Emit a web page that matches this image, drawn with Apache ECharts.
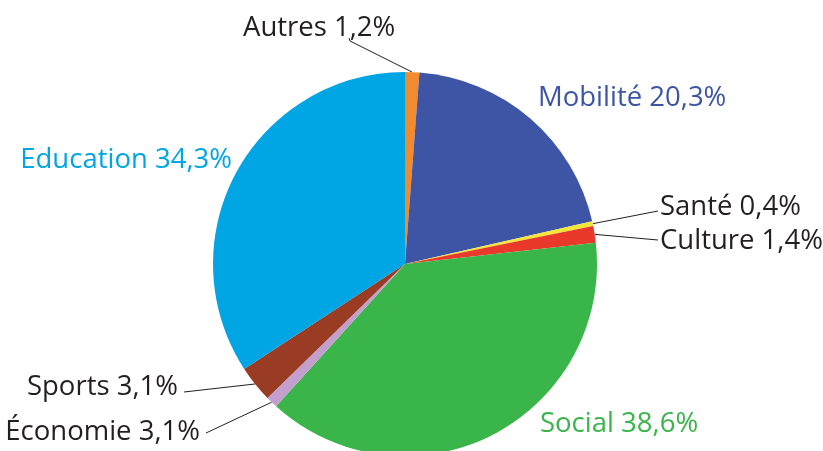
<!DOCTYPE html>
<html>
<head>
<meta charset="utf-8">
<script src="https://cdn.jsdelivr.net/npm/echarts@6/dist/echarts.min.js"></script>
<style>
  html, body { margin: 0; padding: 0; background: #fff; }
  #main { width: 823px; height: 451px; }
</style>
</head>
<body>
<div id="main"></div>
<script>
// catégories dans l'ordre horaire depuis midi
var categories = ['Autres', 'Mobilité', 'Santé', 'Culture', 'Social', 'Économie', 'Sports', 'Education'];
// taille des parts
var values = [1.2, 20.3, 0.4, 1.4, 38.6, 1.0, 3.1, 34.3];
// pourcentages imprimés
var pctLabels = ['1,2%', '20,3%', '0,4%', '1,4%', '38,6%', '3,1%', '3,1%', '34,3%'];
var colors = ['#f28a30', '#3d55a4', '#f4e53a', '#e9392b', '#39b54a', '#c29fcd', '#9a3b24', '#00a5e3'];
var labelColors = ['#231f20', '#3d55a4', '#231f20', '#231f20', '#39b54a', '#231f20', '#231f20', '#00a5e3'];
// positions des étiquettes [x, y, align]
var labelPos = [
  [243, 28, 'left'],
  [538, 98, 'left'],
  [660, 207, 'left'],
  [660, 241, 'left'],
  [540, 424, 'left'],
  [200, 432, 'right'],
  [178, 387, 'right'],
  [232, 160, 'right']
];
// bout des traits de rappel (null = pas de trait)
var lineEnds = [
  [[350, 41], [349, 38]],
  null,
  [[658, 211]],
  [[658, 240]],
  null,
  [[206, 433]],
  [[184, 392]],
  null
];

var myChart = echarts.init(document.getElementById('main'));

var data = categories.map(function (c, i) {
  return {
    name: c,
    value: values[i],
    itemStyle: { color: colors[i] },
    label: { color: labelColors[i] },
    labelLine: { show: lineEnds[i] !== null }
  };
});

var option = {
  animation: false,
  series: [
    {
      type: 'pie',
      center: [405, 264],
      radius: [0, 192],
      startAngle: 90,
      clockwise: true,
      avoidLabelOverlap: false,
      itemStyle: { borderWidth: 0 },
      label: {
        show: true,
        position: 'outside',
        fontFamily: 'Open Sans',
        fontSize: 27.5,
        formatter: function (p) {
          return p.name + ' ' + pctLabels[p.dataIndex];
        }
      },
      labelLine: {
        show: true,
        length: 10,
        length2: 10,
        lineStyle: { color: '#231f20', width: 1 }
      },
      labelLayout: function (params) {
        var i = params.dataIndex;
        var p = labelPos[i];
        var res = { x: p[0], y: p[1], align: p[2], verticalAlign: 'middle' };
        if (lineEnds[i] && params.labelLinePoints) {
          var start = params.labelLinePoints[0];
          var pts = [start].concat(lineEnds[i]);
          if (pts.length < 3) {
            pts = [start, pts[1], pts[1]];
          }
          res.labelLinePoints = pts;
        }
        return res;
      },
      data: data
    }
  ]
};
myChart.setOption(option);
</script>
</body>
</html>
